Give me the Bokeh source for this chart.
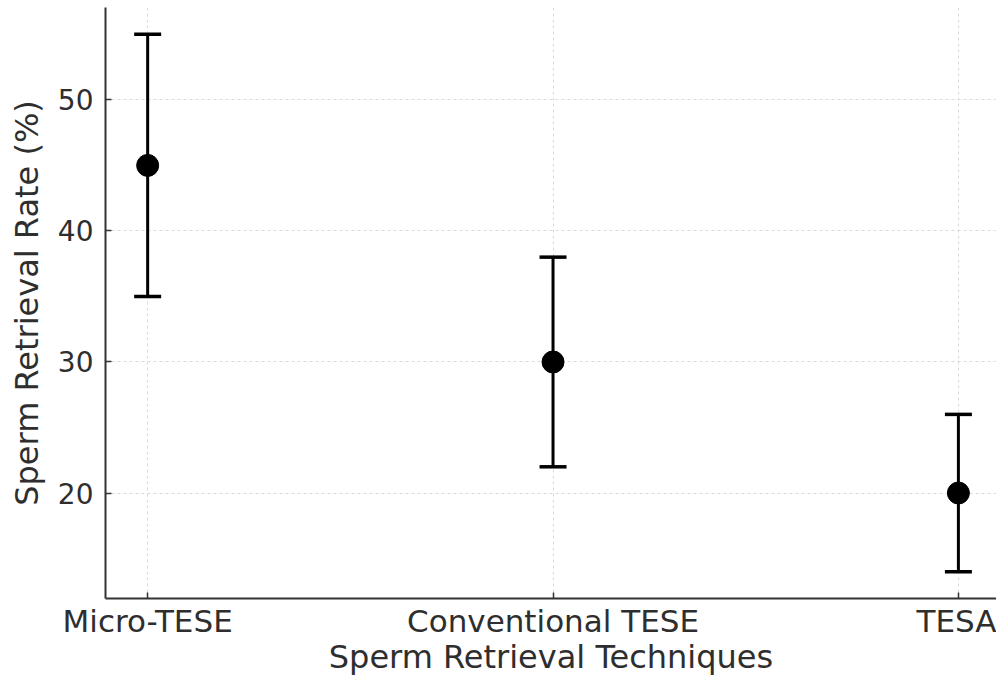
from bokeh.plotting import figure
from bokeh.models import Range1d, FixedTicker, Whisker, TeeHead, ColumnDataSource
from bokeh.embed import file_html
from bokeh.resources import INLINE

techniques = ["Micro-TESE", "Conventional TESE", "TESA"]
rates = [45, 30, 20]
errors = [10, 8, 6]
y_ticks = [20, 30, 40, 50]

xs = list(range(len(techniques)))
src = ColumnDataSource(dict(
    x=xs, y=rates,
    upper=[r + e for r, e in zip(rates, errors)],
    lower=[r - e for r, e in zip(rates, errors)],
))

FONT = "DejaVu Sans"
TXT = "#2e2e2e"

p = figure(width=996, height=678, output_backend="svg", toolbar_location=None,
           x_range=Range1d(-0.104, 2.094), y_range=Range1d(11.95, 57.05),
           min_border_left=105, min_border_right=0, min_border_top=7, min_border_bottom=78)
p.outline_line_color = None
p.background_fill_color = "white"

p.xaxis.ticker = FixedTicker(ticks=xs)
p.xaxis.major_label_overrides = {i: t for i, t in enumerate(techniques)}
p.yaxis.ticker = FixedTicker(ticks=y_ticks)

for ax in (p.xaxis, p.yaxis):
    ax.axis_line_width = 2
    ax.axis_line_color = "#333333"
    ax.major_tick_in = 6
    ax.major_tick_out = 0
    ax.major_tick_line_width = 1.5
    ax.major_tick_line_color = "#333333"
    ax.minor_tick_line_color = None
    ax.major_label_text_font = FONT
    ax.major_label_text_color = TXT
    ax.axis_label_text_font = FONT
    ax.axis_label_text_font_size = "32px"
    ax.axis_label_text_font_style = "normal"
    ax.axis_label_text_color = TXT

p.xaxis.major_label_text_font_size = "31px"
p.yaxis.major_label_text_font_size = "28px"
p.xaxis.axis_label = "Sperm Retrieval Techniques"
p.yaxis.axis_label = "Sperm Retrieval Rate (%)"
p.xaxis.major_label_standoff = 4
p.yaxis.major_label_standoff = 12
p.xaxis.axis_label_standoff = -4
p.yaxis.axis_label_standoff = 9

p.grid.grid_line_color = "#dadada"
p.grid.grid_line_dash = "3 3"
p.grid.grid_line_width = 1

w = Whisker(source=src, base="x", upper="upper", lower="lower", dimension="height",
            line_color="black", line_width=3,
            upper_head=TeeHead(size=27, line_width=3.5, line_color="black"),
            lower_head=TeeHead(size=27, line_width=3.5, line_color="black"))
p.add_layout(w)
p.scatter("x", "y", source=src, size=22, color="black")

open("out.html", "w").write(file_html(p, INLINE))
